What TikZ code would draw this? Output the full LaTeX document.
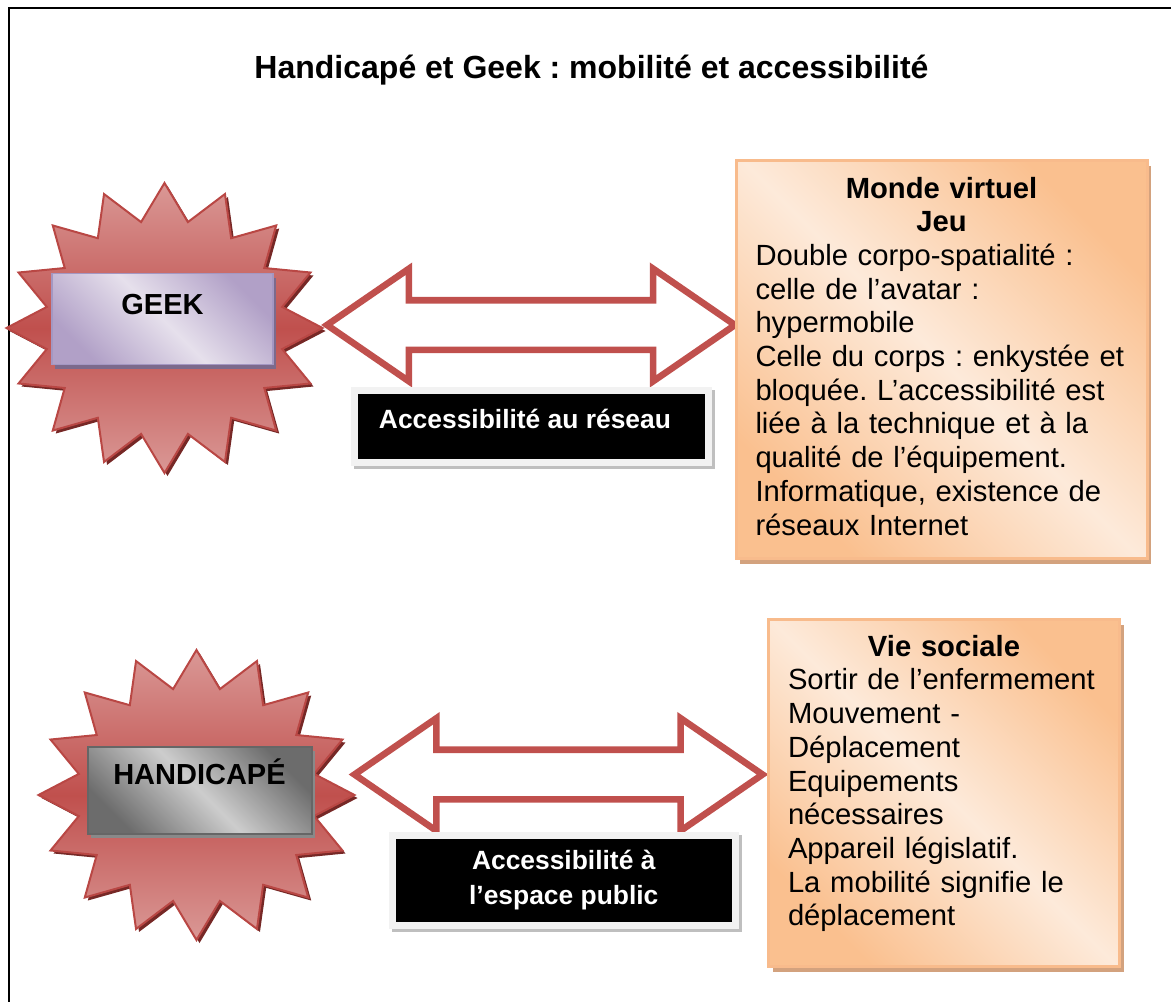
\documentclass[tikz,border=0pt]{standalone}
\usepackage{fontspec}
\setmainfont{Liberation Sans}
\usetikzlibrary{shapes.arrows,shadows}
\frenchspacing

\definecolor{burstred}{HTML}{C0504D}
\definecolor{burstlight}{HTML}{DA9896}
\definecolor{burstline}{HTML}{B94744}
\definecolor{burstdark}{HTML}{762826}
\definecolor{peach}{HTML}{FDEADA}
\definecolor{apricot}{HTML}{FAC08F}
\definecolor{apricotline}{HTML}{F8BB8C}
\definecolor{tan}{HTML}{D3A27E}
\definecolor{lavender}{HTML}{E6E0EC}
\definecolor{lilac}{HTML}{B1A0C7}
\definecolor{lilacline}{HTML}{A497C2}
\definecolor{lilacshadow}{HTML}{7C6A8C}
\definecolor{greylight}{HTML}{CDCDCD}
\definecolor{greydark}{HTML}{6C6C6C}
\definecolor{greyline}{HTML}{666666}
\definecolor{framegrey}{HTML}{F2F2F2}
\definecolor{shadowgrey}{HTML}{BFBFBF}

\tikzset{
  burst/.pic={
    \fill[burstdark, shift={(3,3)}] (0:158 and 145)
      \foreach \k in {0,...,15}{ -- ({11.25+22.5*\k}:120 and 108) -- ({22.5+22.5*\k}:158 and 145) } -- cycle;
    \draw[burstline, line width=1pt, top color=burstlight, bottom color=burstlight, middle color=burstred]
      (0:158 and 145)
      \foreach \k in {0,...,15}{ -- ({11.25+22.5*\k}:120 and 108) -- ({22.5+22.5*\k}:158 and 145) } -- cycle;
  },
  tag/.style={rectangle, inner xsep=0pt, inner ysep=0pt, font=\fontsize{14.5}{16.8}\selectfont\bfseries},
  geektag/.style={tag, draw=lilacline, line width=0.8pt,
    top color=lilac, bottom color=lilac, middle color=lavender, shading angle=-45,
    drop shadow={shadow xshift=1.5pt, shadow yshift=-2pt, fill=lilacshadow, opacity=1}},
  handitag/.style={tag, draw=greyline, line width=1pt,
    top color=greydark, bottom color=greydark, middle color=greylight, shading angle=-45,
    drop shadow={shadow xshift=1.5pt, shadow yshift=-2pt, fill=greydark!80, opacity=1}},
  twoway/.style={double arrow, draw=burstred, fill=white, line width=3.3pt,
    inner xsep=0pt, inner ysep=10.75pt, minimum height=204pt,
    double arrow head extend=15.75pt, double arrow tip angle=69},
  notice/.style={rectangle, fill=black, draw=framegrey, line width=3.5pt, text=white,
    inner sep=0pt, align=center, font=\fontsize{13.2}{17.5}\selectfont\bfseries,
    drop shadow={shadow xshift=1.5pt, shadow yshift=-1.5pt, fill=shadowgrey, draw=shadowgrey, line width=3.5pt, opacity=1}},
  infobox/.style={rectangle, draw=apricotline, line width=1.5pt, inner sep=0pt, align=left,
    top color=apricot, bottom color=apricot, middle color=peach, shading angle=-45,
    font=\fontsize{14.6}{16.85}\selectfont,
    drop shadow={shadow xshift=2pt, shadow yshift=-2.5pt, fill=tan, opacity=1}}
}

\begin{document}
\begin{tikzpicture}[x=0.5pt,y=-0.5pt]
\useasboundingbox (0,0) rectangle (1171,1001);
\draw[line width=1.3pt] (9,1020) |- (1190,8);

\node[font=\fontsize{16}{19}\selectfont\bfseries, anchor=base] (title) at (591.5,78) {Handicapé et Geek : mobilité et accessibilité};

% geek
\pic at (164.5,328) {burst};
\node[geektag, minimum width=110.5pt, text height=20.25pt, text depth=25.25pt] (geek) at (162.5,319) {GEEK};
\node[twoway] (linkA) at (531,325) {};
\node[notice, minimum width=177pt, text height=18.75pt, text depth=17pt] (reseau) at (531,426.25) {Accessibilité au réseau\hspace*{6pt}};
\node[infobox, minimum width=205.5pt, minimum height=199pt, text width=186pt] (monde) at (941.5,359.5)
  {{\centering\bfseries Monde virtuel\\Jeu\par}Double corpo-spatialité :\\celle de l’avatar :\\hypermobile\\Celle du corps : enkystée et\\bloquée. L’accessibilité est\\liée à la technique et à la\\qualité de l’équipement.\\Informatique, existence de\\réseaux Internet\rule[-3.5pt]{0pt}{3.5pt}};

% handicape
\pic at (196.5,795) {burst};
\node[handitag, minimum width=112pt, text height=18.5pt, text depth=25pt] (handi) at (199.5,790.5) {HANDICAPÉ};
\node[twoway] (linkB) at (558.5,774.5) {};
\node[notice, minimum width=171.75pt, minimum height=45pt] (espace) at (563.75,880.5) {Accessibilité à\\l’espace public};
\node[infobox, minimum width=175.5pt, minimum height=173.5pt, text width=156pt] (social) at (944,793)
  {{\centering\bfseries Vie sociale\par}Sortir de l’enfermement\\Mouvement -\\Déplacement\\Equipements\\nécessaires\\Appareil législatif.\\La mobilité signifie le\\déplacement\rule[-12.5pt]{0pt}{12.5pt}};
\end{tikzpicture}
\end{document}
